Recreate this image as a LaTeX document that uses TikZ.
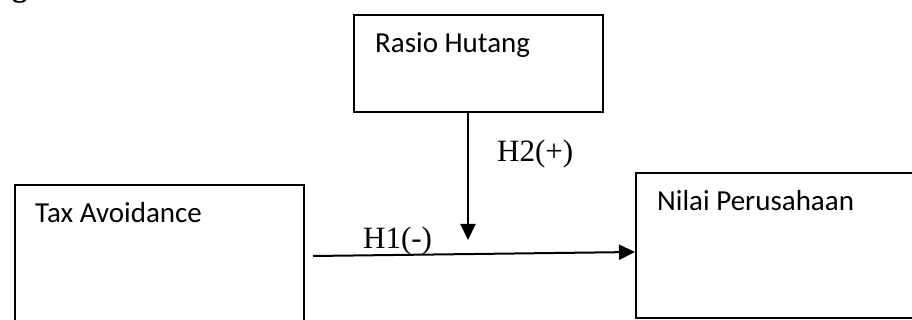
\documentclass[tikz,border=0pt]{standalone}
\usepackage{fontspec}
\setmainfont{Liberation Serif}
\newfontfamily\boxfont{Carlito}
\usetikzlibrary{arrows.meta}
\tikzset{
  varbox/.style={draw=black, line width=1.8pt, fill=none, inner sep=0pt, anchor=north west},
  boxtext/.style={inner sep=0pt, anchor=base west, font=\boxfont\fontsize{29}{34}\selectfont},
  hyptext/.style={inner sep=0pt, anchor=base west, font=\fontsize{31}{36}\selectfont},
  link/.style={line width=2pt, -{Triangle[length=16pt,width=15pt]}}
}
\begin{document}
\begin{tikzpicture}[x=1pt, y=-1pt]
  \useasboundingbox (0,0) rectangle (912,320);
  \clip (0,0) rectangle (912,320);

  % heading letter running in from above
  \node[inner sep=0pt, anchor=base west, font=\bfseries\fontsize{31}{36}\selectfont] (head) at (12,-3) {g};

  % variable boxes
  \node[varbox, minimum width=249pt, minimum height=97pt] (rh) at (353,14) {};
  \node[varbox, minimum width=289pt, minimum height=150pt] (ta) at (14,184) {};
  \node[varbox, minimum width=290pt, minimum height=145pt] (np) at (635,172) {};

  \node[boxtext] (rhtext) at (375,53) {Rasio Hutang};
  \node[boxtext] (tatext) at (35,223) {Tax Avoidance};
  \node[boxtext] (nptext) at (657,211) {Nilai Perusahaan};

  % hypothesis labels
  \node[hyptext] (h2) at (497,162) {H2(+)};
  \node[hyptext] (h1) at (363,248) {H1(-)};

  % connectors
  \coordinate (h1start) at (313,256);
  \coordinate (mod) at (468,240);
  \draw[link] (h1start) -- ([yshift=-80pt]np.north west);
  \draw[link] (rh.south -| mod) -- (mod);
\end{tikzpicture}
\end{document}
